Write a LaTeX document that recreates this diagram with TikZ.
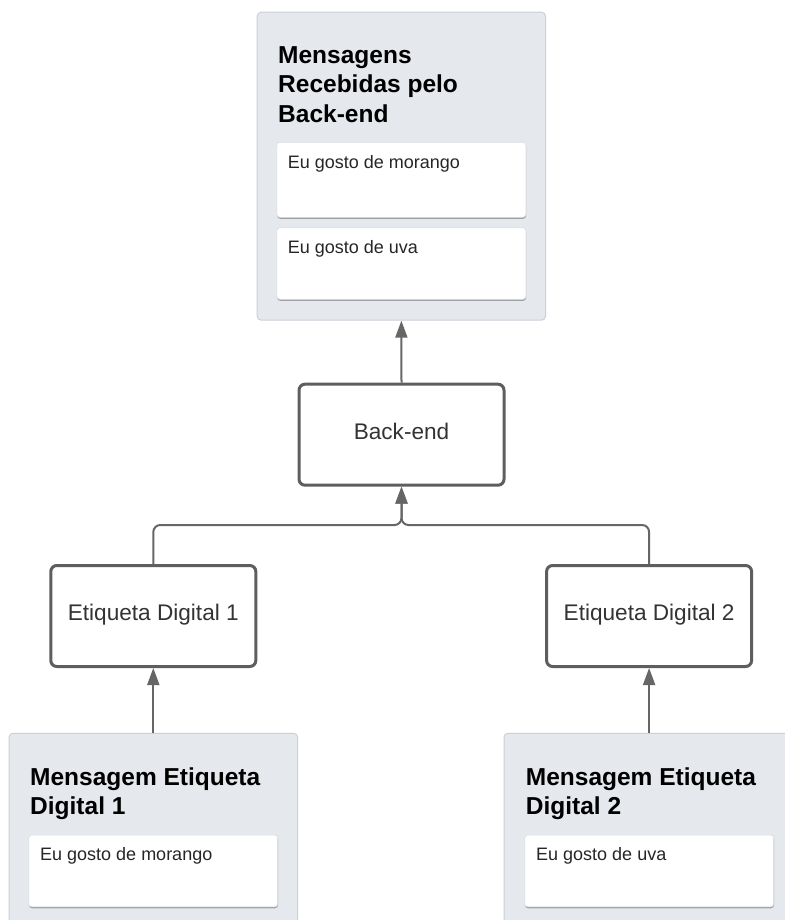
\documentclass[tikz,border=0pt]{standalone}
\usepackage{fontspec}
\setmainfont{Liberation Sans}
\usetikzlibrary{arrows.meta,shadows}
\definecolor{panelfill}{RGB}{229,232,237}
\definecolor{panelline}{RGB}{204,208,214}
\definecolor{boxline}{RGB}{94,94,94}
\definecolor{wireclr}{RGB}{102,102,102}
\definecolor{labelclr}{RGB}{51,51,51}
\begin{document}
\begin{tikzpicture}[x=1pt,y=-1pt,
  panel/.style={draw=panelline, line width=1pt, fill=panelfill, rounded corners=4pt, inner sep=0pt},
  card/.style={draw=panelline!70, line width=0.6pt, fill=white, rounded corners=3pt, inner sep=0pt,
    minimum width=249pt,
    drop shadow={shadow xshift=0.3pt, shadow yshift=-1.5pt, opacity=0.3, fill=black}},
  stage/.style={draw=boxline, line width=3pt, fill=white, rounded corners=6pt,
    minimum width=205pt, minimum height=101pt, inner sep=0pt,
    text height=16pt, text depth=7pt,
    font=\fontsize{22.6}{27}\selectfont, text=labelclr},
  heading/.style={anchor=base west, align=left, inner sep=0pt,
    font=\fontsize{24.5}{29.5}\selectfont\bfseries},
  cardtext/.style={anchor=base west, inner sep=0pt, font=\fontsize{18}{21}\selectfont, text=black!85},
  wire/.style={draw=wireclr, line width=2pt, -{Triangle[length=17pt,width=12pt]}},
]
\useasboundingbox (0,0) rectangle (784,920);
\fill[white] (0,0) rectangle (784,920);

% messages received by the back-end (heading placed by its last baseline)
\node[panel, minimum width=288.3pt, minimum height=308pt] (recv) at (401.35,166.2) {};
\node[heading] (recvtitle) at (278,122.3) {Mensagens\\Recebidas pelo\\Back-end};
\node[card, minimum height=75pt] (recvA) at (401.35,179.8) {};
\node[cardtext] (recvAtext) at (287.7,168.3) {Eu gosto de morango};
\node[card, minimum height=71.6pt] (recvB) at (401.35,263.5) {};
\node[cardtext] (recvBtext) at (287.7,253.3) {Eu gosto de uva};

% processing stages
\node[stage] (be) at (401.5,434.7) {Back-end};
\node[stage] (e1) at (153.3,616) {Etiqueta Digital 1};
\node[stage] (e2) at (649.1,616) {Etiqueta Digital 2};

% messages sent by each tag
\node[panel, minimum width=288.7pt, minimum height=200pt] (src1) at (153.35,833.3) {};
\node[heading] (src1title) at (30,814.8) {Mensagem Etiqueta\\Digital 1};
\node[card, minimum height=71.7pt] (src1card) at (153.2,870.9) {};
\node[cardtext] (src1text) at (40,860) {Eu gosto de morango};

\node[panel, minimum width=290pt, minimum height=200pt] (src2) at (649,833.3) {};
\node[heading] (src2title) at (525.7,814.8) {Mensagem Etiqueta\\Digital 2};
\node[card, minimum height=71.7pt] (src2card) at (649.2,870.9) {};
\node[cardtext] (src2text) at (536,860) {Eu gosto de uva};

% connectors
\coordinate (join) at (401.5,525);
\draw[wire] (e1.south |- src1.north) -- (e1.south);
\draw[wire] (e2.south |- src2.north) -- (e2.south);
\draw[wire, rounded corners=7pt] (e1.north) |- (join) -- (be.south);
\draw[wire, rounded corners=7pt] (e2.north) |- (join) -- (be.south);
\draw[wire] (be.north) -- (recv.south);
\end{tikzpicture}
\end{document}
